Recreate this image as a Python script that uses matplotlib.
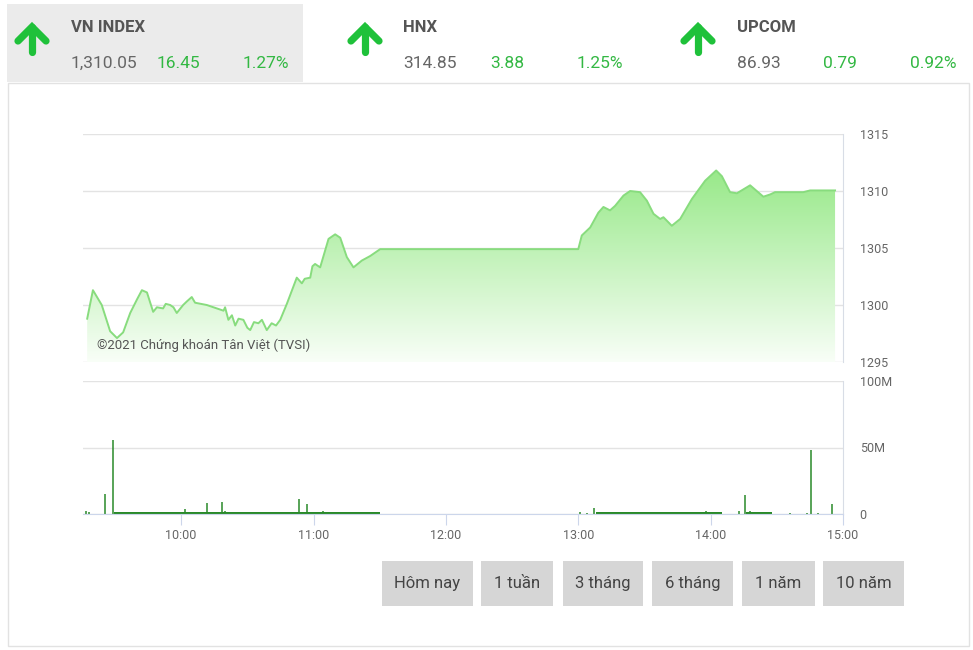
import numpy as np
import matplotlib
matplotlib.use("Agg")
import matplotlib.pyplot as plt
from matplotlib.patches import Rectangle
from matplotlib.lines import Line2D

plt.rcParams['font.family'] = ['Liberation Sans Narrow', 'Roboto', 'DejaVu Sans']

# header data
idx_names = ['VN INDEX', 'HNX', 'UPCOM']
idx_values = ['1,310.05', '314.85', '86.93']
idx_changes = ['16.45', '3.88', '0.79']
idx_pcts = ['1.27%', '1.25%', '0.92%']

# intraday index (minutes since 9:00)
price_min = [17.4, 20, 24, 27.8, 30.9, 33.7, 36.9, 40, 42.2, 44.5, 47.3, 49, 51.8, 53, 55, 56.5,
             58, 60.9, 62.5, 64.8, 66.3, 71.6, 79.2, 79.9, 81.4, 83, 84.5, 86, 88.2, 90, 91.3, 93,
             95, 96.6, 98.8, 101, 103, 104.9, 107.9, 112.4, 114.7, 116, 118.5, 119.5, 120.7, 123,
             126.8, 129.8, 132.1, 135.1, 138.1, 141.9, 145.7, 150.2, 240, 241.6, 245.4, 249.1,
             251.4, 254.4, 256.7, 260.5, 263.5, 268, 271.1, 274.1, 277.1, 278.6, 282.4, 286.2,
             291.5, 297.5, 302.5, 305.1, 308.8, 311.9, 317.9, 320.9, 323.9, 327, 329.2, 342,
             345.1, 356.4]
price_val = [1298.8, 1301.3, 1300.0, 1297.7, 1297.1, 1297.6, 1299.3, 1300.5, 1301.3, 1301.1,
             1299.4, 1299.8, 1299.7, 1300.1, 1300.0, 1299.8, 1299.3, 1300.0, 1300.3, 1300.7,
             1300.2, 1300.0, 1299.5, 1299.8, 1298.7, 1299.1, 1298.2, 1298.8, 1298.7, 1298.0,
             1297.8, 1298.5, 1298.4, 1298.7, 1297.8, 1298.4, 1298.2, 1298.7, 1300.1, 1302.4,
             1301.9, 1302.3, 1302.4, 1303.4, 1303.6, 1303.3, 1305.8, 1306.2, 1305.9, 1304.2,
             1303.3, 1303.9, 1304.3, 1304.9, 1304.9, 1306.1, 1306.8, 1308.1, 1308.6, 1308.3,
             1308.7, 1309.6, 1310.0, 1309.9, 1309.15, 1308.0, 1307.55, 1307.7, 1306.95,
             1307.55, 1309.3, 1310.9, 1311.8, 1311.3, 1309.9, 1309.8, 1310.5, 1310.0, 1309.5,
             1309.7, 1309.9, 1309.9, 1310.05, 1310.05]

# volume spikes (millions)
vol_min = [17, 18, 25.6, 28.9, 61.8, 65, 71.6, 78.4, 80, 113.2, 117.2, 124.2, 138,
           240.6, 243.9, 247.2, 268, 298, 313, 315.6, 318, 336, 343.6, 345.5, 348.7, 355.2]
vol_val = [2, 1.5, 15, 56, 3.5, 1.5, 8.5, 9.3, 2, 11.3, 7.5, 2, 1,
           1.5, 1, 4.7, 1.5, 2, 2, 14.3, 2, 0.8, 0.8, 48, 0.8, 7.5]
# steady small volume during continuous trading
band_start = [29.5, 248, 316]
band_end = [150, 305, 328]
band_level = [1.6, 1.6, 1.6]

hour_ticks = [60, 120, 180, 240, 300, 360]
hour_labels = ['10:00', '11:00', '12:00', '13:00', '14:00', '15:00']
buttons = ['Hôm nay', '1 tuần', '3 tháng', '6 tháng', '1 năm', '10 năm']

W, H = 973, 650
fig = plt.figure(figsize=(W / 100, H / 100), dpi=100)


def box(x0, y0, x1, y1):
    return [x0 / W, 1 - y1 / H, (x1 - x0) / W, (y1 - y0) / H]


def fx(x):
    return x / W


def fy(y):
    return 1 - y / H


green = '#33b843'
grid = '#e3e3e3'
axcol = '#ccd6eb'

# outer panel + VN INDEX highlight
fig.patches.append(Rectangle((fx(8), fy(646)), fx(969) - fx(8), fy(83) - fy(646),
                             transform=fig.transFigure, fill=False, ec='#e2e2e2', lw=1))
fig.patches.append(Rectangle((fx(7), fy(82)), fx(303) - fx(7), fy(4) - fy(82),
                             transform=fig.transFigure, fc='#ebebeb', ec='none'))

# header
arrow_x = [32, 365, 698]
name_x = [71, 403, 737]
chg_x = [157, 490, 823]
pct_x = [243, 577, 910]
for i in range(3):
    ax0 = arrow_x[i]
    fig.lines.append(Line2D([fx(ax0), fx(ax0)], [fy(52), fy(27)], transform=fig.transFigure,
                            color='#1fc13a', lw=5.2, solid_capstyle='round'))
    fig.lines.append(Line2D([fx(ax0 - 14), fx(ax0), fx(ax0 + 14)], [fy(41), fy(27), fy(41)],
                            transform=fig.transFigure, color='#1fc13a', lw=5.2,
                            solid_capstyle='round', solid_joinstyle='miter'))
    fig.text(fx(name_x[i]), fy(27), idx_names[i], fontsize=12, fontweight='bold',
             color='#555555', va='center', ha='left')
    fig.text(fx(name_x[i]), fy(63), idx_values[i], fontsize=12.5, color='#666666',
             va='center', ha='left')
    fig.text(fx(chg_x[i]), fy(63), idx_changes[i], fontsize=12.5, color=green,
             va='center', ha='left')
    fig.text(fx(pct_x[i]), fy(63), idx_pcts[i], fontsize=12.5, color=green,
             va='center', ha='left')

# price panel
ax = fig.add_axes(box(83, 134, 843, 362))
xlim = (15.5, 360)
ax.set_xlim(*xlim)
ax.set_ylim(1295, 1315)
px = np.array(price_min)
py = np.array(price_val)
grad = np.linspace(0, 1, 256)[:, None]
top = np.array([0.58, 0.91, 0.52])
bot = np.array([0.975, 0.997, 0.97])
img = bot + (top - bot) * grad[..., None]
im = ax.imshow(img, extent=[xlim[0], xlim[1], 1295, 1312.5], origin='lower',
               aspect='auto', zorder=1)
poly = ax.fill_between(px, py, 1295, color='none', lw=0)
im.set_clip_path(poly.get_paths()[0], transform=ax.transData)
ax.plot(px, py, color='#88dc7e', lw=1.4, zorder=3)
ax.set_yticks([1295, 1300, 1305, 1310, 1315])
ax.yaxis.grid(True, color=grid, lw=1)
ax.set_axisbelow(True)
ax.set_xticks([])
ax.yaxis.tick_right()
ax.tick_params(axis='y', length=0, pad=12, labelsize=9, labelcolor='#666666')
for s in ['left', 'top', 'bottom']:
    ax.spines[s].set_visible(False)
ax.spines['right'].set_color('#d8dde6')
ax.text(0.018, 0.045, '©2021 Chứng khoán Tân Việt (TVSI)', transform=ax.transAxes,
        fontsize=9.5, color='#555555', ha='left', va='bottom', zorder=5)

# volume panel
vx = fig.add_axes(box(83, 381, 843, 514))
vx.set_xlim(*xlim)
vx.set_ylim(0, 100)
for s0, s1, lv in zip(band_start, band_end, band_level):
    vx.fill_between([s0, s1], 0, lv, color='#2a8a2a', lw=0)
vx.vlines(vol_min, 0, vol_val, color='#2a8a2a', lw=1.1)
vx.set_yticks([0, 50, 100])
vx.set_yticklabels(['0', '50M', '100M'])
vx.yaxis.grid(True, color=grid, lw=1)
vx.set_axisbelow(True)
vx.yaxis.tick_right()
vx.tick_params(axis='y', length=0, pad=12, labelsize=9, labelcolor='#666666')
vx.set_xticks(hour_ticks)
vx.set_xticklabels(hour_labels)
vx.tick_params(axis='x', length=8, color=axcol, labelsize=9, labelcolor='#666666', pad=3)
for s in ['left', 'top']:
    vx.spines[s].set_visible(False)
vx.spines['right'].set_color('#d8dde6')
vx.spines['bottom'].set_color(axcol)

# range buttons
btn_x0 = [382, 481, 563, 652, 742, 823]
btn_x1 = [473, 553, 643, 733, 815, 904]
for b, x0, x1 in zip(buttons, btn_x0, btn_x1):
    fig.patches.append(Rectangle((fx(x0), fy(606)), fx(x1) - fx(x0), fy(561) - fy(606),
                                 transform=fig.transFigure, fc='#d6d6d6', ec='none'))
    fig.text(fx((x0 + x1) / 2), fy(583.5), b, fontsize=12, color='#444444',
             ha='center', va='center')

fig.savefig('out.png', dpi=100, facecolor='white')
